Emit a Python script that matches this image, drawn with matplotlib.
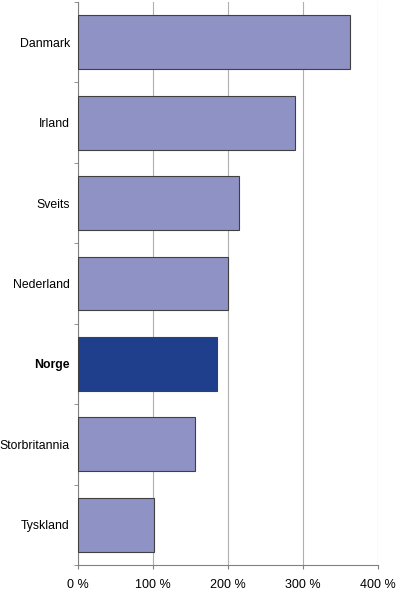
import matplotlib
matplotlib.use('Agg')
from matplotlib import pyplot as plt
import numpy as np

# data, top to bottom as in the chart
countries = ['Danmark', 'Irland', 'Sveits', 'Nederland', 'Norge', 'Storbritannia', 'Tyskland']
values = [362, 289, 214, 199, 185, 156, 101]
highlight = 'Norge'

xticks = [0, 100, 200, 300, 400]
xtick_labels = ['0 %', '100 %', '200 %', '300 %', '400 %']

plt.rcParams['font.family'] = ['Liberation Sans', 'DejaVu Sans']

fig = plt.figure(figsize=(3.97, 5.91), dpi=100)
ax = fig.add_axes([0.197, 0.044, 0.756, 0.9526])

light = '#8f92c4'
dark = '#1f3f8c'
colors = [dark if c == highlight else light for c in countries]

y = np.arange(len(countries))[::-1]
ax.barh(y, values, height=0.67, color=colors, edgecolor='#404040', linewidth=0.8, zorder=3)

ax.set_xlim(0, 400)
ax.set_ylim(-0.5, len(countries) - 0.5)
ax.set_xticks(xticks)
ax.set_xticklabels(xtick_labels, fontsize=9)
ax.set_yticks(y)
ax.set_yticklabels(countries, fontsize=8.8)
for lbl in ax.get_yticklabels():
    if lbl.get_text() == highlight:
        lbl.set_fontweight('bold')

# category separators as minor ticks on the y axis
ax.set_yticks(np.arange(-0.5, len(countries), 1.0), minor=True)
ax.tick_params(axis='y', which='major', length=0, pad=6)
ax.tick_params(axis='y', which='minor', length=3, color='#808080', direction='out')
ax.tick_params(axis='x', which='major', length=3, color='#808080', pad=7)

ax.grid(axis='x', color='#b0b0b0', linewidth=0.8, zorder=0)
ax.spines['top'].set_visible(False)
ax.spines['right'].set_visible(False)
ax.spines['left'].set_color('#808080')
ax.spines['bottom'].set_color('#808080')

fig.savefig('out.png', dpi=100)
